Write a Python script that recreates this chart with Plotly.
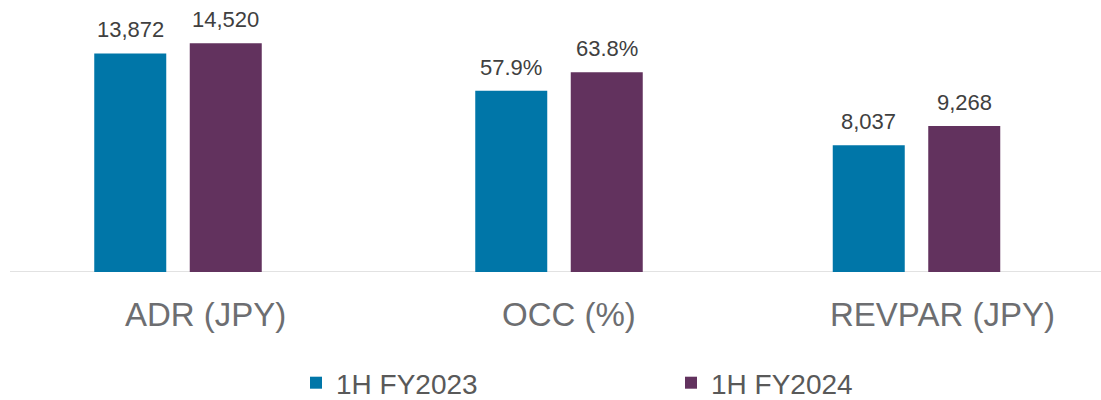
import plotly.graph_objects as go

# ---- data ----
groups = ["ADR (JPY)", "OCC (%)", "REVPAR (JPY)"]
series = ["1H FY2023", "1H FY2024"]
values_2023 = [13872, 57.9, 8037]
values_2024 = [14520, 63.8, 9268]
label_formats = ["{:,.0f}", "{:.1f}%", "{:,.0f}"]

# ---- styling ----
W, H = 1101, 400
colors = ["#0076A8", "#62325E"]
label_color = "#404040"
cat_color = "#6D6E71"
FONT = "Liberation Sans, Arial, sans-serif"

x_domains_px = [(82.5, 273.5), (463.5, 654.5), (821, 1012)]
y_ranges = [17260, 86.9, 17260]
cat_label_x_px = [205, 569, 942]
cat_label_y_px = 314
BOTTOM = 128

fig = go.Figure()
annotations = []
series_values = [values_2023, values_2024]
plot_h = H - BOTTOM

for i, grp in enumerate(groups):
    sfx = "" if i == 0 else str(i + 1)
    for j, s in enumerate(series):
        v = series_values[j][i]
        fig.add_trace(go.Bar(
            x=[s], y=[v], name=s, legendgroup=s, showlegend=(i == 0),
            marker=dict(color=colors[j], line=dict(width=0)),
            xaxis="x" + sfx, yaxis="y" + sfx, hoverinfo="skip",
        ))
        annotations.append(dict(
            x=s, y=v, xref="x" + sfx, yref="y" + sfx,
            text=label_formats[i].format(v), showarrow=False,
            yanchor="bottom", yshift=9,
            font=dict(family=FONT, size=22, color=label_color),
        ))
    d0, d1 = x_domains_px[i]
    fig.update_layout(**{
        "xaxis" + sfx: dict(domain=[d0 / W, d1 / W], anchor="y" + sfx,
                            showticklabels=False, showgrid=False, zeroline=False,
                            showline=False, ticks="", fixedrange=True),
        "yaxis" + sfx: dict(range=[0, y_ranges[i]], anchor="x" + sfx,
                            visible=False, showgrid=False, zeroline=False,
                            fixedrange=True),
    })
    annotations.append(dict(
        x=cat_label_x_px[i] / W, y=(plot_h - cat_label_y_px) / plot_h,
        xref="paper", yref="paper",
        text=grp, showarrow=False, xanchor="center", yanchor="middle",
        font=dict(family=FONT, size=33, color=cat_color),
    ))

fig.update_layout(
    width=W, height=H,
    margin=dict(l=0, r=0, t=0, b=BOTTOM),
    paper_bgcolor="white", plot_bgcolor="white",
    bargap=0.246,
    annotations=annotations,
    shapes=[dict(type="line", xref="paper", yref="y", x0=10 / W, x1=1, y0=0, y1=0,
                 line=dict(color="#D9D9D9", width=1.5), layer="below")],
    legend=dict(orientation="h", x=296 / W, xanchor="left",
                yref="container", y=17 / H, yanchor="middle",
                entrywidth=330, entrywidthmode="pixels",
                font=dict(family=FONT, size=28, color="#595959"),
                itemclick=False, itemdoubleclick=False),
    showlegend=True,
)

fig.write_html(
    "out.html",
    config={"displayModeBar": False},
    post_script="document.body.style.margin='0';document.body.style.overflow='hidden';",
)
